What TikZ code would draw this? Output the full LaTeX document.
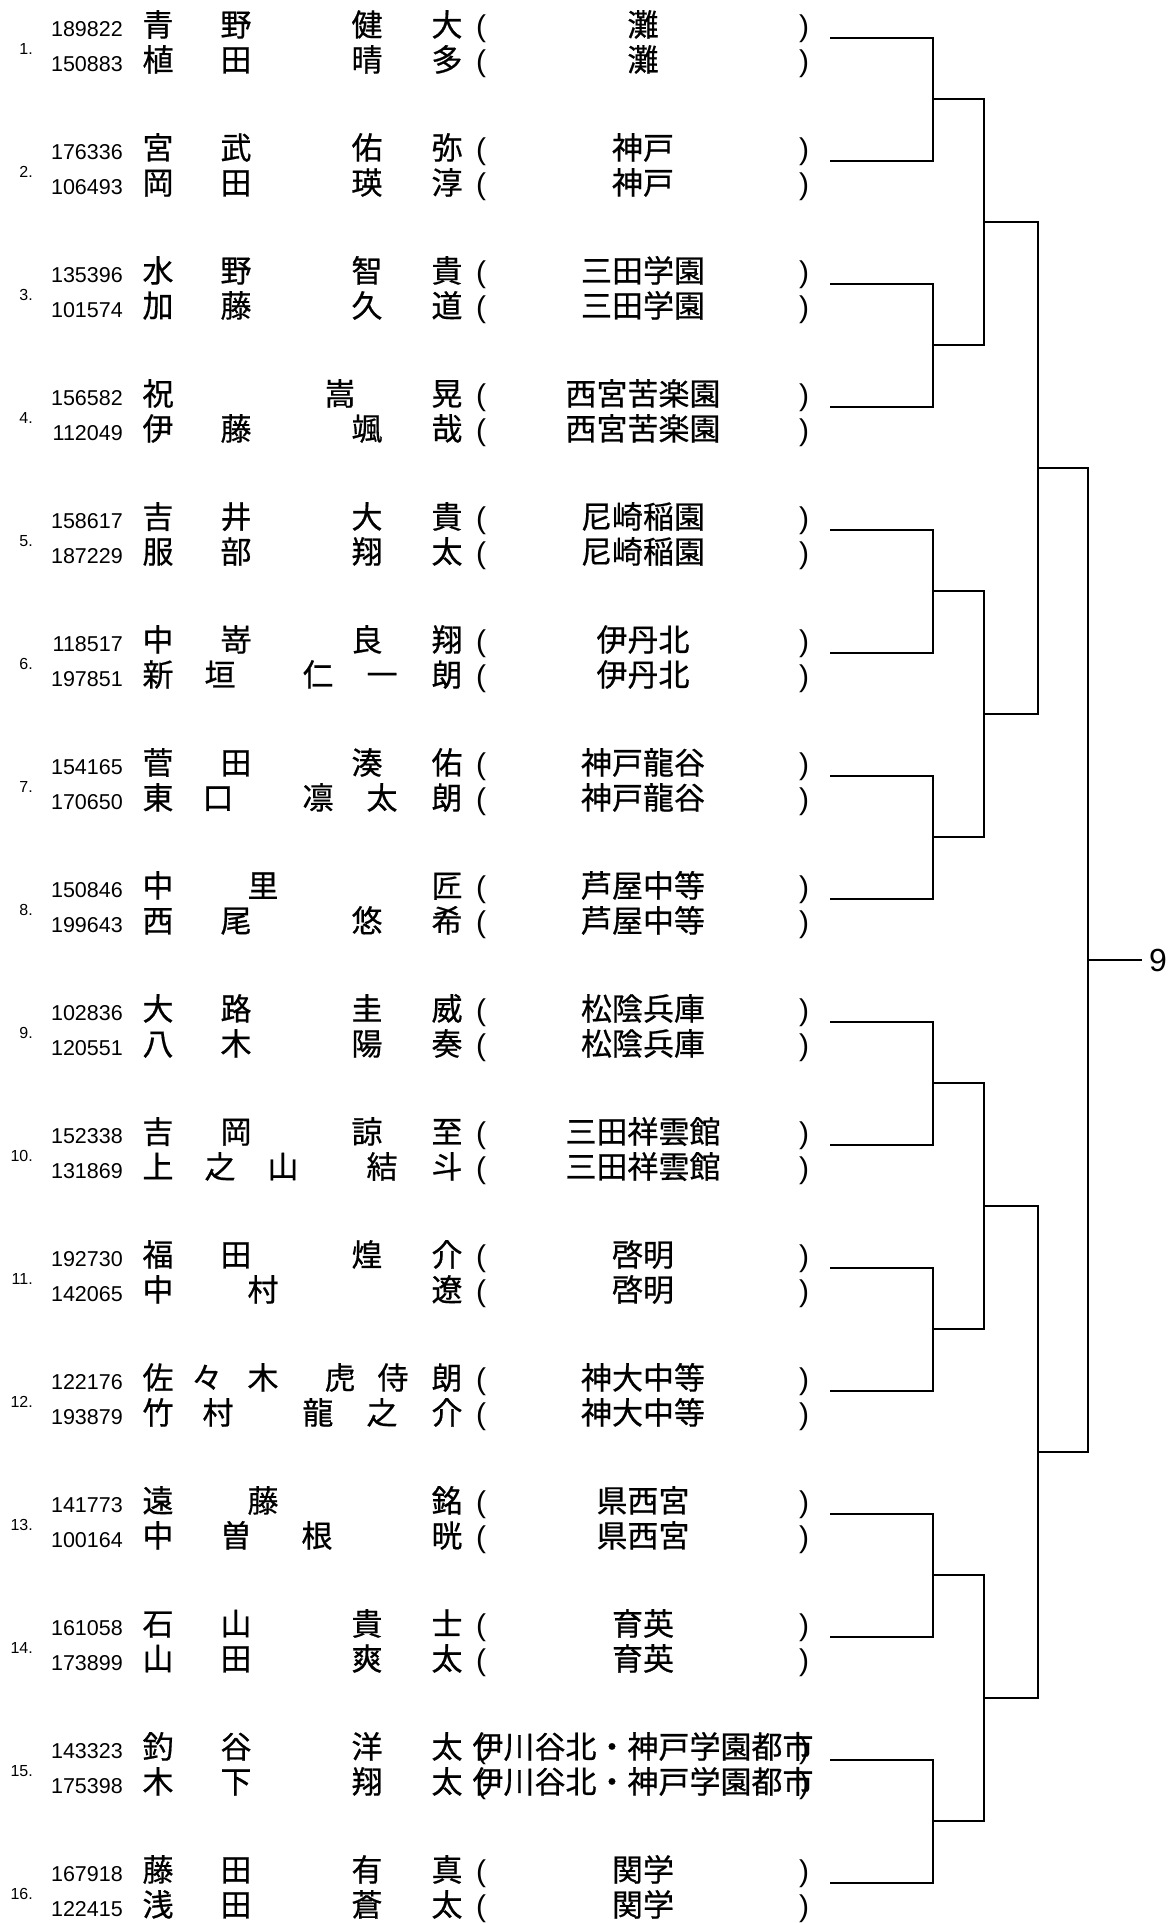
\documentclass[tikz,border=0pt]{standalone}
\usepackage{fontspec}
\setmainfont{Liberation Sans}
\newfontfamily\jpfont[FakeBold=0.6]{Noto Sans CJK JP}

\tikzset{
  idnum/.style={anchor=base east,inner sep=0pt,font=\fontsize{21.5}{22}\selectfont},
  seed/.style={anchor=base east,inner sep=0pt,font=\fontsize{16}{16}\selectfont},
  kanji/.style={anchor=base,inner sep=0pt,font=\jpfont\fontsize{31}{31}\selectfont},
  paren/.style={anchor=base,inner sep=0pt,font=\fontsize{30}{30}\selectfont},
  bracket/.style={line width=2pt},
}

% #1 pair, #2 row, #3 id, #4 x/char list, #5 school
\newcommand{\entrant}[5]{%
  \pgfmathsetmacro\bl{37.7+123*(#1-1)+35*(#2-1)-1.5}
  \node[idnum] (id#1-#2) at (123,\bl) {#3};
  \foreach \x/\ch [count=\i] in {#4}
    \node[kanji] (nm#1-#2-\i) at (\x,\bl) {\ch};
  \node[paren] (lp#1-#2) at (481,\bl) {(};
  \node[kanji] (sc#1-#2) at (643,\bl) {#5};
  \node[paren] (rp#1-#2) at (804,\bl) {)};
}

\begin{document}
\begin{tikzpicture}[x=1pt,y=-1pt]
  \useasboundingbox (0,0) rectangle (1173,1923);

  % seeds
  \foreach \k in {1,...,16}
    \node[seed] (sd\k) at (33,{37.7+123*(\k-1)+16.6}) {\k.};

  \entrant{1}{1}{189822}{158/青,236/野,367/健,447/大}{灘}
  \entrant{1}{2}{150883}{158/植,236/田,367/晴,447/多}{灘}
  \entrant{2}{1}{176336}{158/宮,236/武,367/佑,447/弥}{神戸}
  \entrant{2}{2}{106493}{158/岡,236/田,367/瑛,447/淳}{神戸}
  \entrant{3}{1}{135396}{158/水,236/野,367/智,447/貴}{三田学園}
  \entrant{3}{2}{101574}{158/加,236/藤,367/久,447/道}{三田学園}
  \entrant{4}{1}{156582}{158/祝,340/嵩,447/晃}{西宮苦楽園}
  \entrant{4}{2}{112049}{158/伊,236/藤,367/颯,447/哉}{西宮苦楽園}
  \entrant{5}{1}{158617}{158/吉,236/井,367/大,447/貴}{尼崎稲園}
  \entrant{5}{2}{187229}{158/服,236/部,367/翔,447/太}{尼崎稲園}
  \entrant{6}{1}{118517}{158/中,236/嵜,367/良,447/翔}{伊丹北}
  \entrant{6}{2}{197851}{158/新,220/垣,318/仁,382/一,447/朗}{伊丹北}
  \entrant{7}{1}{154165}{158/菅,236/田,367/湊,447/佑}{神戸龍谷}
  \entrant{7}{2}{170650}{158/東,218/口,318/凛,382/太,447/朗}{神戸龍谷}
  \entrant{8}{1}{150846}{158/中,263/里,447/匠}{芦屋中等}
  \entrant{8}{2}{199643}{158/西,236/尾,367/悠,447/希}{芦屋中等}
  \entrant{9}{1}{102836}{158/大,236/路,367/圭,447/威}{松陰兵庫}
  \entrant{9}{2}{120551}{158/八,236/木,367/陽,447/奏}{松陰兵庫}
  \entrant{10}{1}{152338}{158/吉,236/岡,367/諒,447/至}{三田祥雲館}
  \entrant{10}{2}{131869}{158/上,220/之,283/山,382/結,447/斗}{三田祥雲館}
  \entrant{11}{1}{192730}{158/福,236/田,367/煌,447/介}{啓明}
  \entrant{11}{2}{142065}{158/中,263/村,447/遼}{啓明}
  \entrant{12}{1}{122176}{158/佐,207/々,263/木,340/虎,393/侍,447/朗}{神大中等}
  \entrant{12}{2}{193879}{158/竹,218/村,318/龍,382/之,447/介}{神大中等}
  \entrant{13}{1}{141773}{158/遠,263/藤,447/銘}{県西宮}
  \entrant{13}{2}{100164}{158/中,236/曽,317/根,447/晄}{県西宮}
  \entrant{14}{1}{161058}{158/石,236/山,367/貴,447/士}{育英}
  \entrant{14}{2}{173899}{158/山,236/田,367/爽,447/太}{育英}
  \entrant{15}{1}{143323}{158/釣,236/谷,367/洋,447/太}{伊川谷北・神戸学園都市}
  \entrant{15}{2}{175398}{158/木,236/下,367/翔,447/太}{伊川谷北・神戸学園都市}
  \entrant{16}{1}{167918}{158/藤,236/田,367/有,447/真}{関学}
  \entrant{16}{2}{122415}{158/浅,236/田,367/蒼,447/太}{関学}

  % bracket points
  \foreach \k in {1,...,16}
    \coordinate (s\k) at (830,{37.7+123*(\k-1)});
  \foreach \k in {1,...,8}
    \coordinate (a\k) at (933,{37.7+123*(2*\k-1.5)});
  \foreach \k in {1,...,4}
    \coordinate (b\k) at (984,{37.7+123*(4*\k-2.5)});
  \foreach \k in {1,2}
    \coordinate (c\k) at (1038,{37.7+123*(8*\k-4.5)});
  \coordinate (d) at (1088,{37.7+123*7.5});
  \node[anchor=west,inner sep=0pt,font=\fontsize{32}{32}\selectfont] (win) at (1149,{37.7+123*7.5}) {9};

  % bracket
  \foreach \k in {1,...,8}{
    \pgfmathtruncatemacro\ka{2*\k-1}
    \pgfmathtruncatemacro\kb{2*\k}
    \draw[bracket] (s\ka) -| (a\k) |- (s\kb);
  }
  \foreach \k in {1,...,4}{
    \pgfmathtruncatemacro\ka{2*\k-1}
    \pgfmathtruncatemacro\kb{2*\k}
    \draw[bracket] (a\ka) -| (b\k) |- (a\kb);
  }
  \draw[bracket] (b1) -| (c1) |- (b2);
  \draw[bracket] (b3) -| (c2) |- (b4);
  \draw[bracket] (c1) -| (d) |- (c2);
  \draw[bracket,shorten >=7pt] (d) -- (win.west);
\end{tikzpicture}
\end{document}
